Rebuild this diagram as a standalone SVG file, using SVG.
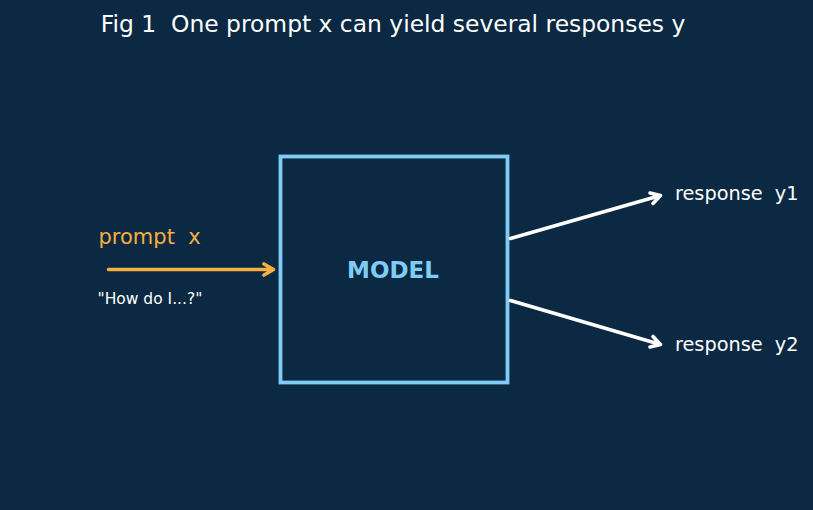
<svg xmlns="http://www.w3.org/2000/svg" width="813" height="510" viewBox="0 0 813 510">
<style>
text{font-family:"DejaVu Sans","Liberation Sans",sans-serif}
.w{fill:#ffffff}
.conn{fill:none;stroke-width:3.6;stroke-linecap:round;stroke-linejoin:round}
</style>
<rect width="813" height="510" fill="#0b2942"/>
<text x="393" y="32" font-size="23.4" text-anchor="middle" class="w" xml:space="preserve">Fig 1  One prompt x can yield several responses y</text>
<g id="model">
<rect x="280.5" y="156.5" width="227" height="226" fill="none" stroke="#7fcdf7" stroke-width="3.8"/>
<text x="393" y="278" font-size="23" font-weight="bold" text-anchor="middle" fill="#7fcdf7">MODEL</text>
</g>
<g id="prompt">
<text x="98.5" y="244" font-size="21" fill="#f5b041" xml:space="preserve">prompt  x</text>
<text x="97.5" y="304" font-size="15.5" class="w">"How do I...?"</text>
</g>
<g id="y1"><text x="675" y="200" font-size="19.3" class="w" xml:space="preserve">response  y1</text></g>
<g id="y2"><text x="675" y="351" font-size="19.3" class="w" xml:space="preserve">response  y2</text></g>
<g id="connectors">
<path class="conn" stroke="#f5b041" d="M108.5 269.5H273.5M264 264L273.5 269.5L264 275"/>
<path class="conn" stroke="#ffffff" d="M510.5 238.5L660.5 195.5M650 193L660.5 195.5L653 203.5"/>
<path class="conn" stroke="#ffffff" d="M510.5 300.5L660.5 344.5M653 336.5L660.5 344.5L650 347"/>
</g>
</svg>
